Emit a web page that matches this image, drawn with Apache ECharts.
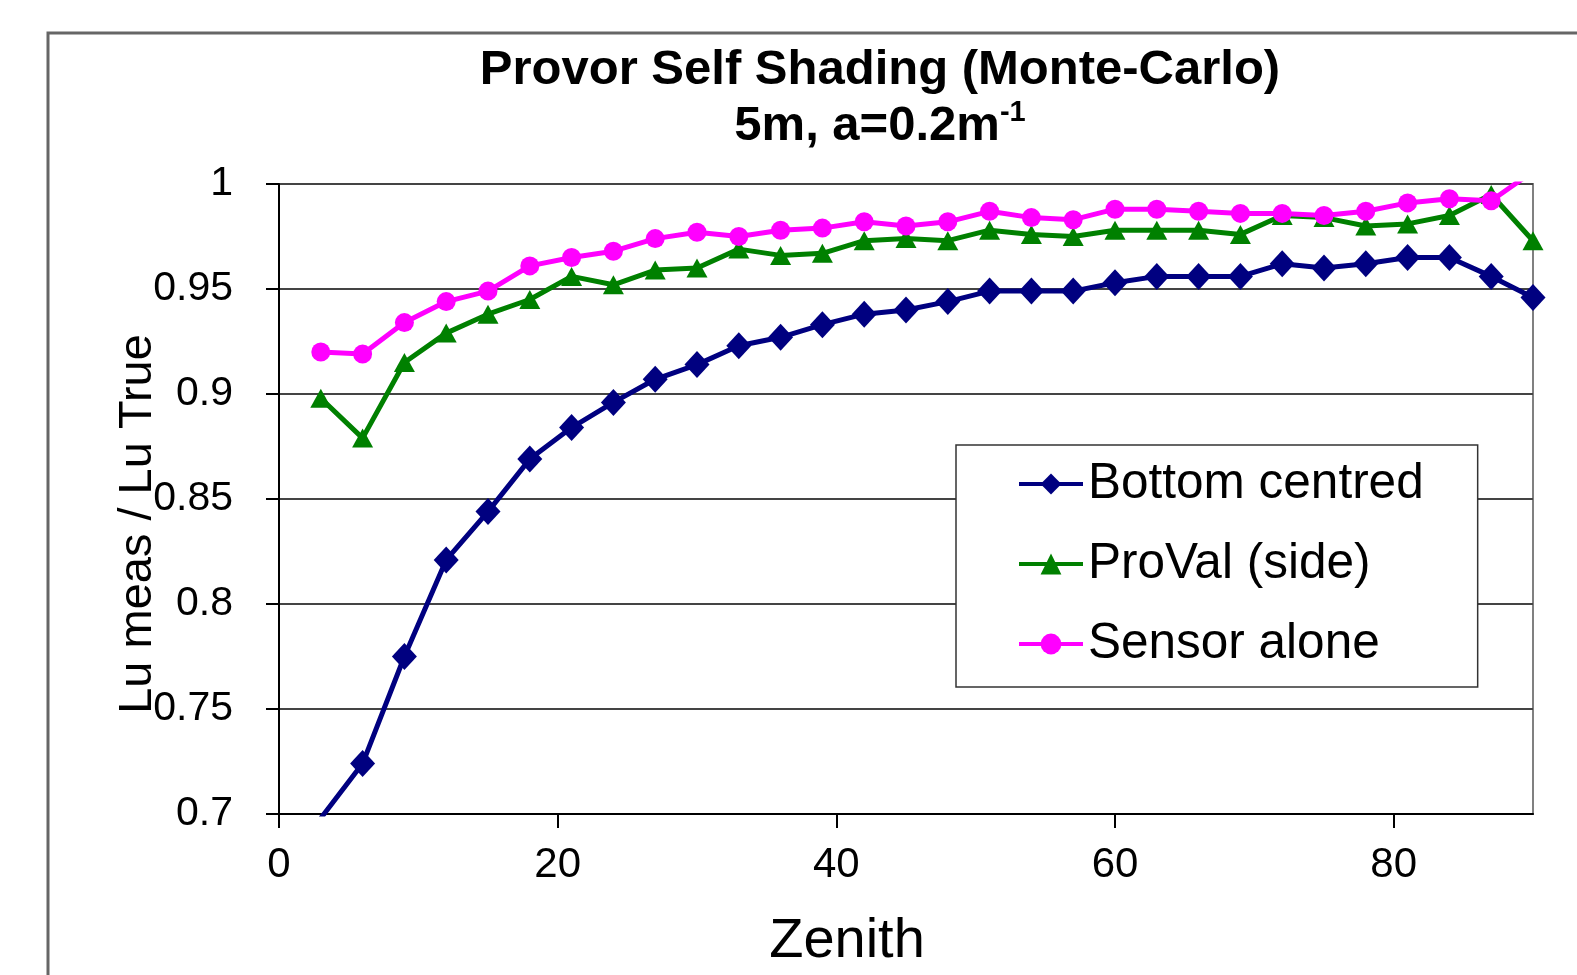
<!DOCTYPE html>
<html>
<head>
<meta charset="utf-8">
<script src="https://cdn.jsdelivr.net/npm/echarts@6/dist/echarts.min.js"></script>
<style>
html,body{margin:0;padding:0;background:#fff;}
#chart{width:1577px;height:975px;}
</style>
</head>
<body>
<div id="chart"></div>
<script>
// Zenith angles (degrees)
var zenith = [3,6,9,12,15,18,21,24,27,30,33,36,39,42,45,48,51,54,57,60,63,66,69,72,75,78,81,84,87,90];
// Lu meas / Lu True
var bottomCentred = [0.698,0.724,0.775,0.821,0.844,0.869,0.884,0.896,0.907,0.914,0.923,0.927,0.933,0.938,0.940,0.944,0.949,0.949,0.949,0.953,0.956,0.956,0.956,0.962,0.960,0.962,0.965,0.965,0.956,0.946];
var proValSide = [0.898,0.879,0.915,0.929,0.938,0.945,0.956,0.952,0.959,0.960,0.969,0.966,0.967,0.973,0.974,0.973,0.978,0.976,0.975,0.978,0.978,0.978,0.976,0.985,0.984,0.980,0.981,0.985,0.995,0.973];
var sensorAlone = [0.920,0.919,0.934,0.944,0.949,0.961,0.965,0.968,0.974,0.977,0.975,0.978,0.979,0.982,0.980,0.982,0.987,0.984,0.983,0.988,0.988,0.987,0.986,0.986,0.985,0.987,0.991,0.993,0.992,1.006];
var seriesNames = ['Bottom centred','ProVal (side)','Sensor alone'];
var xTicks = [0,20,40,60,80];

function pairs(ys){ return zenith.map(function(x,i){ return [x, ys[i]]; }); }

var FONT = '"Liberation Sans", Arial, sans-serif';
var chart = echarts.init(document.getElementById('chart'), null, {renderer:'canvas'});
var option = {
  backgroundColor: '#ffffff',
  animation: false,
  graphic: [{
    type: 'rect', silent: true, z: -10,
    shape: {x: 48, y: 33, width: 1600, height: 1000},
    style: {fill: '#ffffff', stroke: '#666666', lineWidth: 3}
  }],
  title: {
    left: 875, top: 37, textAlign: 'center',
    text: '{a|Provor Self Shading (Monte-Carlo)}\n{a|5m, a=0.2m}{s|-1}',
    textStyle: {
      rich: {
        a: {fontFamily: FONT, fontWeight: 'bold', fontSize: 49, lineHeight: 56, color: '#000'},
        s: {fontFamily: FONT, fontWeight: 'bold', fontSize: 29, lineHeight: 56, color: '#000', verticalAlign: 'top', padding:[0,0,18,0]}
      }
    }
  },
  grid: {
    left: 279, right: 44, top: 184, bottom: 159,
    show: true, borderColor: '#808080', borderWidth: 2, backgroundColor: 'transparent'
  },
  legend: {
    orient: 'vertical', left: 956, top: 445,
    data: seriesNames,
    itemWidth: 64, itemHeight: 26, itemGap: 30,
    padding: [14, 54, 18, 61],
    borderColor: '#333', borderWidth: 1.5, backgroundColor: '#fff',
    lineStyle: {width: 4},
    textStyle: {fontFamily: FONT, fontSize: 49.5, lineHeight: 50, color: '#000'}
  },
  xAxis: {
    type: 'value', min: 0, max: 90, interval: 20,
    name: 'Zenith', nameLocation: 'middle', nameGap: 100, nameMoveOverlap: false,
    nameTextStyle: {fontFamily: FONT, fontSize: 56, color: '#000', padding: [0, 118, 0, 0]},
    axisLine: {show: true, lineStyle: {color: '#000', width: 2}},
    axisTick: {show: true, length: 14, lineStyle: {color: '#000', width: 2}, customValues: xTicks},
    axisLabel: {fontFamily: FONT, fontSize: 42, color: '#000', margin: 30, customValues: xTicks},
    splitLine: {show: false}
  },
  yAxis: {
    type: 'value', min: 0.7, max: 1, interval: 0.05,
    name: 'Lu meas / Lu True', nameLocation: 'middle', nameGap: 117, nameMoveOverlap: false,
    nameTextStyle: {fontFamily: FONT, fontSize: 47, color: '#000', padding: [0, 50, 0, 0]},
    axisLine: {show: true, lineStyle: {color: '#000', width: 2}},
    axisTick: {show: true, length: 13, lineStyle: {color: '#000', width: 2}},
    axisLabel: {fontFamily: FONT, fontSize: 41, color: '#000', margin: 46,
      formatter: function(v){ return String(Math.round(v*100)/100); }},
    splitLine: {show: true, lineStyle: {color: '#444', width: 2}}
  },
  series: [
    {name: seriesNames[0], type: 'line', data: pairs(bottomCentred), clip: true,
     symbol: 'diamond', symbolSize: [25, 27], color: '#000080',
     lineStyle: {color: '#000080', width: 5}, itemStyle: {color: '#000080'}},
    {name: seriesNames[1], type: 'line', data: pairs(proValSide), clip: true,
     symbol: 'triangle', symbolSize: [21, 19], color: '#008000',
     lineStyle: {color: '#008000', width: 5}, itemStyle: {color: '#008000'}},
    {name: seriesNames[2], type: 'line', data: pairs(sensorAlone), clip: true,
     symbol: 'circle', symbolSize: 19, color: '#ff00ff',
     lineStyle: {color: '#ff00ff', width: 5}, itemStyle: {color: '#ff00ff'}}
  ]
};
chart.setOption(option);
</script>
</body>
</html>
